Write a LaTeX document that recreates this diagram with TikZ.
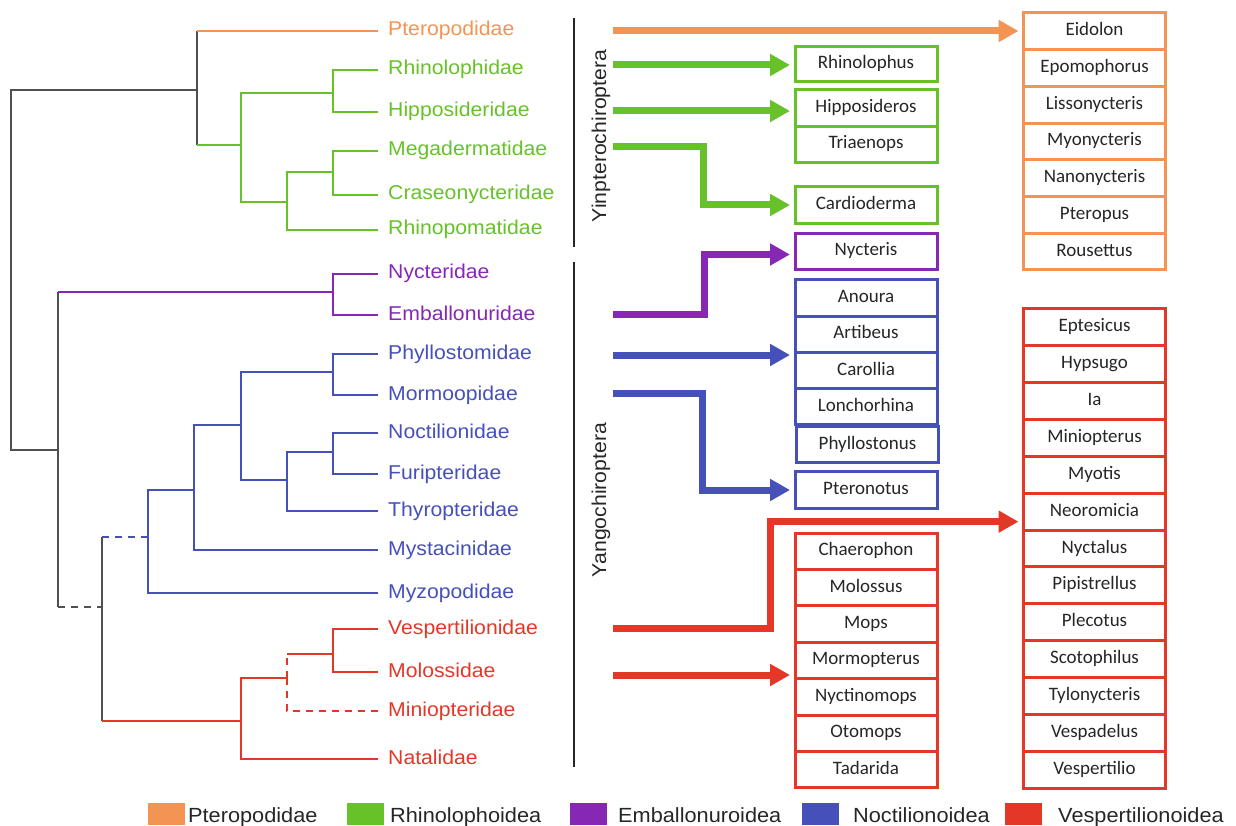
\documentclass[tikz,border=0pt]{standalone}
\usepackage{fontspec}
\setmainfont{Liberation Sans}
\newfontfamily\treefont[FakeStretch=1.06]{Liberation Sans}
\newfontfamily\boxfont{Carlito}
\usetikzlibrary{arrows.meta,positioning}
\usepackage{xcolor}
\definecolor{treeGray}{RGB}{80,80,80}
\definecolor{pteOrange}{RGB}{244,148,84}
\definecolor{rhiGreen}{RGB}{102,194,40}
\definecolor{embPurple}{RGB}{135,40,180}
\definecolor{nocBlue}{RGB}{70,80,185}
\definecolor{vesRed}{RGB}{228,55,40}

\begin{document}
\begin{tikzpicture}[x=1pt,y=-1pt,
	tree/.style={line width=1.6pt},
	gap/.style={dash pattern=on 7pt off 6pt},
	lbl/.style={anchor=west,inner xsep=10pt,inner ysep=0pt,text height=14pt,text depth=4pt,font=\treefont\fontsize{20}{24}\selectfont},
	genus/.style={draw,rectangle,line width=3pt,minimum width=142pt,minimum height=36.6pt,inner sep=0pt,outer sep=0pt,fill=white,text=black!85,text height=13pt,text depth=4pt,font=\boxfont\fontsize{19}{22}\selectfont},
	fat/.style={line width=7pt,shorten >=5pt,-{Triangle[length=20pt,width=21pt]}}]
	\useasboundingbox (0,0) rectangle (1236,826);

	% family labels
	\node[lbl,text=pteOrange] (lPte) at (378,31) {Pteropodidae};
	\node[lbl,text=rhiGreen] (lRhi) at (378,70) {Rhinolophidae};
	\node[lbl,text=rhiGreen] (lHip) at (378,112) {Hipposideridae};
	\node[lbl,text=rhiGreen] (lMeg) at (378,151) {Megadermatidae};
	\node[lbl,text=rhiGreen] (lCra) at (378,195) {Craseonycteridae};
	\node[lbl,text=rhiGreen] (lRhp) at (378,230) {Rhinopomatidae};
	\node[lbl,text=embPurple] (lNyc) at (378,274) {Nycteridae};
	\node[lbl,text=embPurple] (lEmb) at (378,315) {Emballonuridae};
	\node[lbl,text=nocBlue] (lPhy) at (378,354) {Phyllostomidae};
	\node[lbl,text=nocBlue] (lMor) at (378,395) {Mormoopidae};
	\node[lbl,text=nocBlue] (lNoc) at (378,433) {Noctilionidae};
	\node[lbl,text=nocBlue] (lFur) at (378,474) {Furipteridae};
	\node[lbl,text=nocBlue] (lThy) at (378,511) {Thyropteridae};
	\node[lbl,text=nocBlue] (lMys) at (378,550) {Mystacinidae};
	\node[lbl,text=nocBlue] (lMyz) at (378,593) {Myzopodidae};
	\node[lbl,text=vesRed] (lVes) at (378,629) {Vespertilionidae};
	\node[lbl,text=vesRed] (lMol) at (378,672) {Molossidae};
	\node[lbl,text=vesRed] (lMin) at (378,711) {Miniopteridae};
	\node[lbl,text=vesRed] (lNat) at (378,759) {Natalidae};

	% branching points
	\coordinate (kRoot) at (11,90);
	\coordinate (kYin) at (197,90);
	\coordinate (kYan) at (58,450);
	\coordinate (kRhi) at (241,145);
	\coordinate (kRH) at (333,93);
	\coordinate (kMR) at (287,202);
	\coordinate (kMC) at (333,172);
	\coordinate (kEmb) at (333,292);
	\coordinate (kNV) at (102,607);
	\coordinate (kNoc) at (148,537);
	\coordinate (kN1) at (194,490);
	\coordinate (kN2) at (241,425);
	\coordinate (kPM) at (333,372);
	\coordinate (kN3) at (287,480);
	\coordinate (kNF) at (333,452);
	\coordinate (kVes) at (241,721);
	\coordinate (kV1) at (287,678);
	\coordinate (kVM) at (333,654);

	% backbone
	\draw[tree,treeGray] (kYin) -- (kRoot) |- (kYan);
	\draw[tree,treeGray] (kYin |- lPte) -- (kYin |- kRhi);
	\draw[tree,treeGray] (kYan |- kEmb) -- (kYan |- kNV);
	\draw[tree,treeGray,gap] (kYan |- kNV) -- (kNV);
	\draw[tree,treeGray] (kNV |- kNoc) -- (kNV |- kVes);

	% Pteropodidae and Rhinolophoidea
	\draw[tree,pteOrange] (kYin |- lPte) -- (lPte.west);
	\draw[tree,rhiGreen] (kYin |- kRhi) -- (kRhi) |- (kRH) |- (lRhi.west);
	\draw[tree,rhiGreen] (kRH) |- (lHip.west);
	\draw[tree,rhiGreen] (kRhi) |- (kMR) |- (kMC) |- (lMeg.west);
	\draw[tree,rhiGreen] (kMC) |- (lCra.west);
	\draw[tree,rhiGreen] (kMR) |- (lRhp.west);

	% Emballonuroidea
	\draw[tree,embPurple] (kYan |- kEmb) -- (kEmb) |- (lNyc.west);
	\draw[tree,embPurple] (kEmb) |- (lEmb.west);

	% Noctilionoidea
	\draw[tree,nocBlue,gap] (kNV |- kNoc) -- (kNoc);
	\draw[tree,nocBlue] (kNoc) |- (lMyz.west);
	\draw[tree,nocBlue] (kNoc) |- (kN1) |- (lMys.west);
	\draw[tree,nocBlue] (kN1) |- (kN2) |- (kPM) |- (lPhy.west);
	\draw[tree,nocBlue] (kPM) |- (lMor.west);
	\draw[tree,nocBlue] (kN2) |- (kN3) |- (kNF) |- (lNoc.west);
	\draw[tree,nocBlue] (kNF) |- (lFur.west);
	\draw[tree,nocBlue] (kN3) |- (lThy.west);

	% Vespertilionoidea
	\draw[tree,vesRed] (kNV |- kVes) -- (kVes) |- (lNat.west);
	\draw[tree,vesRed] (kVes) |- (kV1);
	\draw[tree,vesRed,gap] (kV1) -- (kV1 |- kVM);
	\draw[tree,vesRed,gap] (kV1) |- (lMin.west);
	\draw[tree,vesRed] (kV1 |- kVM) -- (kVM) |- (lVes.west);
	\draw[tree,vesRed] (kVM) |- (lMol.west);

	% suborders
	\coordinate (yinTop) at (574,18);
	\coordinate (yinBot) at (574,247);
	\coordinate (yanTop) at (574,262);
	\coordinate (yanBot) at (574,767);
	\draw[line width=1.5pt,black!85] (yinTop) -- (yinBot);
	\draw[line width=1.5pt,black!85] (yanTop) -- (yanBot);
	\node[rotate=90,text=black!85,font=\treefont\fontsize{20}{24}\selectfont] (yin) at (601,136) {Yinpterochiroptera};
	\node[rotate=90,text=black!85,font=\treefont\fontsize{20}{24}\selectfont] (yan) at (601,500) {Yangochiroptera};

	% genus boxes
	\foreach \g [count=\i] in {Eidolon,Epomophorus,Lissonycteris,Myonycteris,Nanonycteris,Pteropus,Rousettus}
		\node[genus,draw=pteOrange,minimum height=36.7pt] (pte\i) at (1094.5,{31.35+36.7*(\i-1)}) {\g};
	\foreach \g [count=\i] in {Eptesicus,Hypsugo,Ia,Miniopterus,Myotis,Neoromicia,Nyctalus,Pipistrellus,Plecotus,Scotophilus,Tylonycteris,Vespadelus,Vespertilio}
		\node[genus,draw=vesRed,minimum height=36.85pt] (ves\i) at (1094.5,{327.4+36.85*(\i-1)}) {\g};
	\foreach \g [count=\i] in {Chaerophon,Molossus,Mops,Mormopterus,Nyctinomops,Otomops,Tadarida}
		\node[genus,draw=vesRed,minimum height=36.4pt] (mol\i) at (866,{551.2+36.4*(\i-1)}) {\g};
	\foreach \g [count=\i] in {Anoura,Artibeus,Carollia,Lonchorhina}
		\node[genus,draw=nocBlue,minimum height=36.25pt] (phy\i) at (866,{298.1+36.25*(\i-1)}) {\g};
	\node[genus,draw=nocBlue] (phy5) at (867.5,444.5) {Phyllostonus};
	\node[genus,draw=nocBlue] (ptn) at (866,490) {Pteronotus};
	\node[genus,draw=embPurple] (nyc) at (866,251.5) {Nycteris};
	\node[genus,draw=rhiGreen,minimum height=35pt] (rhi) at (866,64.5) {Rhinolophus};
	\node[genus,draw=rhiGreen] (hip) at (866,108) {Hipposideros};
	\node[genus,draw=rhiGreen] (tri) at (866,144.5) {Triaenops};
	\node[genus,draw=rhiGreen] (car) at (866,205) {Cardioderma};

	% arrows
	\coordinate (sPte) at (613,31);
	\coordinate (sRhi) at (613,65);
	\coordinate (sHip) at (613,111);
	\coordinate (sMeg) at (613,147);
	\coordinate (sEmb) at (613,314);
	\coordinate (sPhy) at (613,355);
	\coordinate (sMor) at (613,393);
	\coordinate (sVes) at (613,628);
	\coordinate (sMol) at (613,675);
	\draw[fat,pteOrange] (sPte) -- (sPte -| pte1.west);
	\draw[fat,rhiGreen] (sRhi) -- (sRhi -| rhi.west);
	\draw[fat,rhiGreen] (sHip) -- (sHip -| hip.west);
	\draw[fat,rhiGreen] (sMeg) -- ++(90,0) |- (car.west);
	\draw[fat,embPurple] (sEmb) -- ++(91,0) |- ([yshift=-3pt]nyc.west);
	\draw[fat,nocBlue] (sPhy) -- (sPhy -| phy2.west);
	\draw[fat,nocBlue] (sMor) -- ++(89,0) |- (ptn.west);
	\draw[fat,vesRed] (sVes) -- ++(157,0) |- ([yshift=-10pt]ves6.west);
	\draw[fat,vesRed] (sMol) -- (sMol -| mol4.west);

	% legend
	\foreach \c/\t/\x/\tx [count=\i] in {pteOrange/Pteropodidae/148/188,rhiGreen/Rhinolophoidea/347/390,embPurple/Emballonuroidea/570/618,nocBlue/Noctilionoidea/802/853,vesRed/Vespertilionoidea/1005/1058}{
		\fill[\c] (\x,803) rectangle ++(37,22);
		\node[anchor=base west,inner sep=0pt,text=black!85,font=\treefont\fontsize{20.5}{24}\selectfont] (leg\i) at (\tx,822) {\t};
	}
\end{tikzpicture}
\end{document}
